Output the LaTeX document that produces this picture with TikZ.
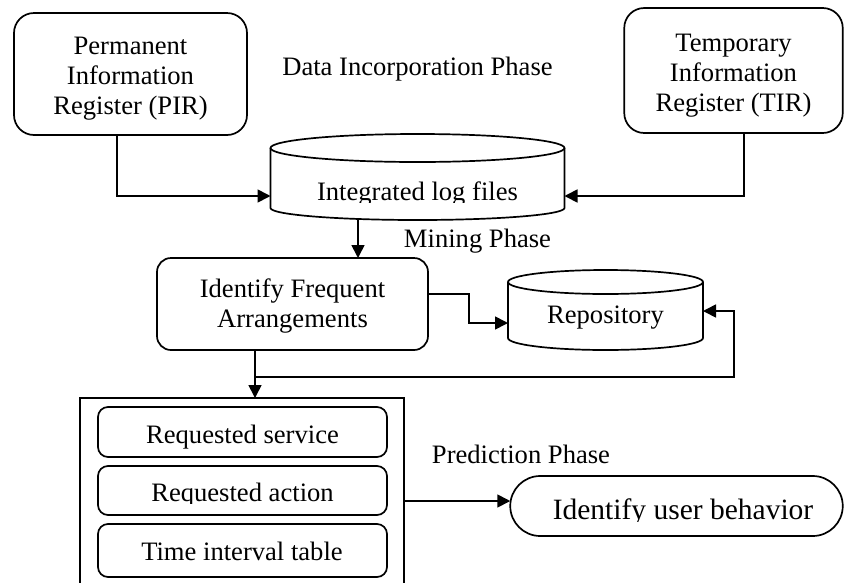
\documentclass[tikz,border=0pt]{standalone}
\usepackage{fontspec}
\setmainfont{Liberation Serif}
\usetikzlibrary{arrows.meta}
\begin{document}
\begin{tikzpicture}[x=1pt,y=-1pt,line width=1.7pt,
  every node/.style={font=\fontsize{26.6}{30}\selectfont,inner sep=0pt,outer sep=0pt},
  rbox/.style={draw,rounded corners=#1},
  rbox/.default=10pt,
  arr/.style={-{Triangle[length=13pt,width=13pt]}},
  lbl/.style={anchor=base}]
\useasboundingbox (0,0) rectangle (844,582);

% top registers
\node[rbox=20pt,minimum width=233pt,minimum height=122pt] (pir) at (130.5,74) {};
\node[align=center] (pirtext) at (130.5,78.5) {Permanent\\Information\\Register (PIR)};
\node[rbox=20pt,minimum width=218.5pt,minimum height=125pt] (tir) at (733.5,70.5) {};
\node[align=center] (tirtext) at (733.5,76) {Temporary\\Information\\Register (TIR)};
\node[lbl] (ph1) at (417.5,75) {Data Incorporation Phase};

% integrated log files cylinder
\node[minimum width=294pt,minimum height=86pt] (ilf) at (417.5,177) {};
\draw (270.5,148) -- (270.5,208) arc[start angle=180,end angle=0,x radius=147,y radius=12] -- (564.5,148);
\draw (417.5,148) ellipse [x radius=147,y radius=14];
\begin{scope}
\clip (268,150) rectangle (566,202.5);
\node[lbl] (ilftext) at (417.5,200) {Integrated log files};
\end{scope}

% arrows into cylinder
\draw[arr] ([xshift=-13.5pt]pir.south) |- ([yshift=-19pt]ilf.west);
\draw[arr] ([xshift=10.5pt]tir.south) |- ([yshift=-19pt]ilf.east);

% identify frequent arrangements
\node[rbox=14pt,minimum width=271pt,minimum height=92pt] (ifa) at (292.5,304) {};
\node[align=center] (ifatext) at (292.5,306) {Identify Frequent\\Arrangements};
\coordinate (d1) at ([xshift=-59.5pt,yshift=0.5pt]ilf.south);
\draw[arr] (d1) -- (d1 |- ifa.north);
\node[lbl] (ph2) at (477.5,247) {Mining Phase};

% repository cylinder
\node[minimum width=195pt,minimum height=80pt] (rep) at (605.5,310) {};
\draw (508,282) -- (508,338) arc[start angle=180,end angle=0,x radius=97.5,y radius=12] -- (703,282);
\draw (605.5,282) ellipse [x radius=97.5,y radius=12];
\node[lbl] (reptext) at (605.5,323) {Repository};

\draw[arr] ([yshift=10pt]ifa.east) -- ++(41,0) |- ([yshift=-13pt]rep.west);

% big container
\node[minimum width=324pt,minimum height=186pt] (big) at (242,491) {};
\draw (big.south west) -- (big.north west) -- (big.north east) -- (big.south east);
\coordinate (d2) at ([xshift=-37.5pt]ifa.south);
\draw[arr] (d2) -- (d2 |- big.north);
\coordinate (br) at ([yshift=-27pt]d2);
\draw[arr] (br) -- ++(479,0) |- ([yshift=-1pt]rep.east);

% inner boxes
\node[rbox=10pt,minimum width=289pt,minimum height=50pt] (rs) at (242.5,432) {};
\node[lbl] (rstext) at (242.5,443) {Requested service};
\node[rbox=10pt,minimum width=289pt,minimum height=49pt] (ra) at (242.5,490.5) {};
\begin{scope}
\clip (100,468) rectangle (385,503.5);
\node[lbl] (ratext) at (242.5,501) {Requested action};
\end{scope}
\node[rbox=10pt,minimum width=289pt,minimum height=53pt] (ti) at (242.5,550.5) {};
\node[lbl] (titext) at (242,560) {Time interval table};

% prediction
\node[lbl] (ph3) at (521,463) {Prediction Phase};
\node[draw,rounded corners=30pt,minimum width=332.5pt,minimum height=60pt] (beh) at (676.5,506) {};
\begin{scope}
\clip (530,478) rectangle (830,521);
\node[lbl,font=\fontsize{29.5}{33}\selectfont] (behtext) at (683,519.5) {Identify user behavior};
\end{scope}
\coordinate (a3) at ([yshift=-10pt]big.east);
\draw[arr] (a3) -- (a3 -| beh.west);
\end{tikzpicture}
\end{document}
